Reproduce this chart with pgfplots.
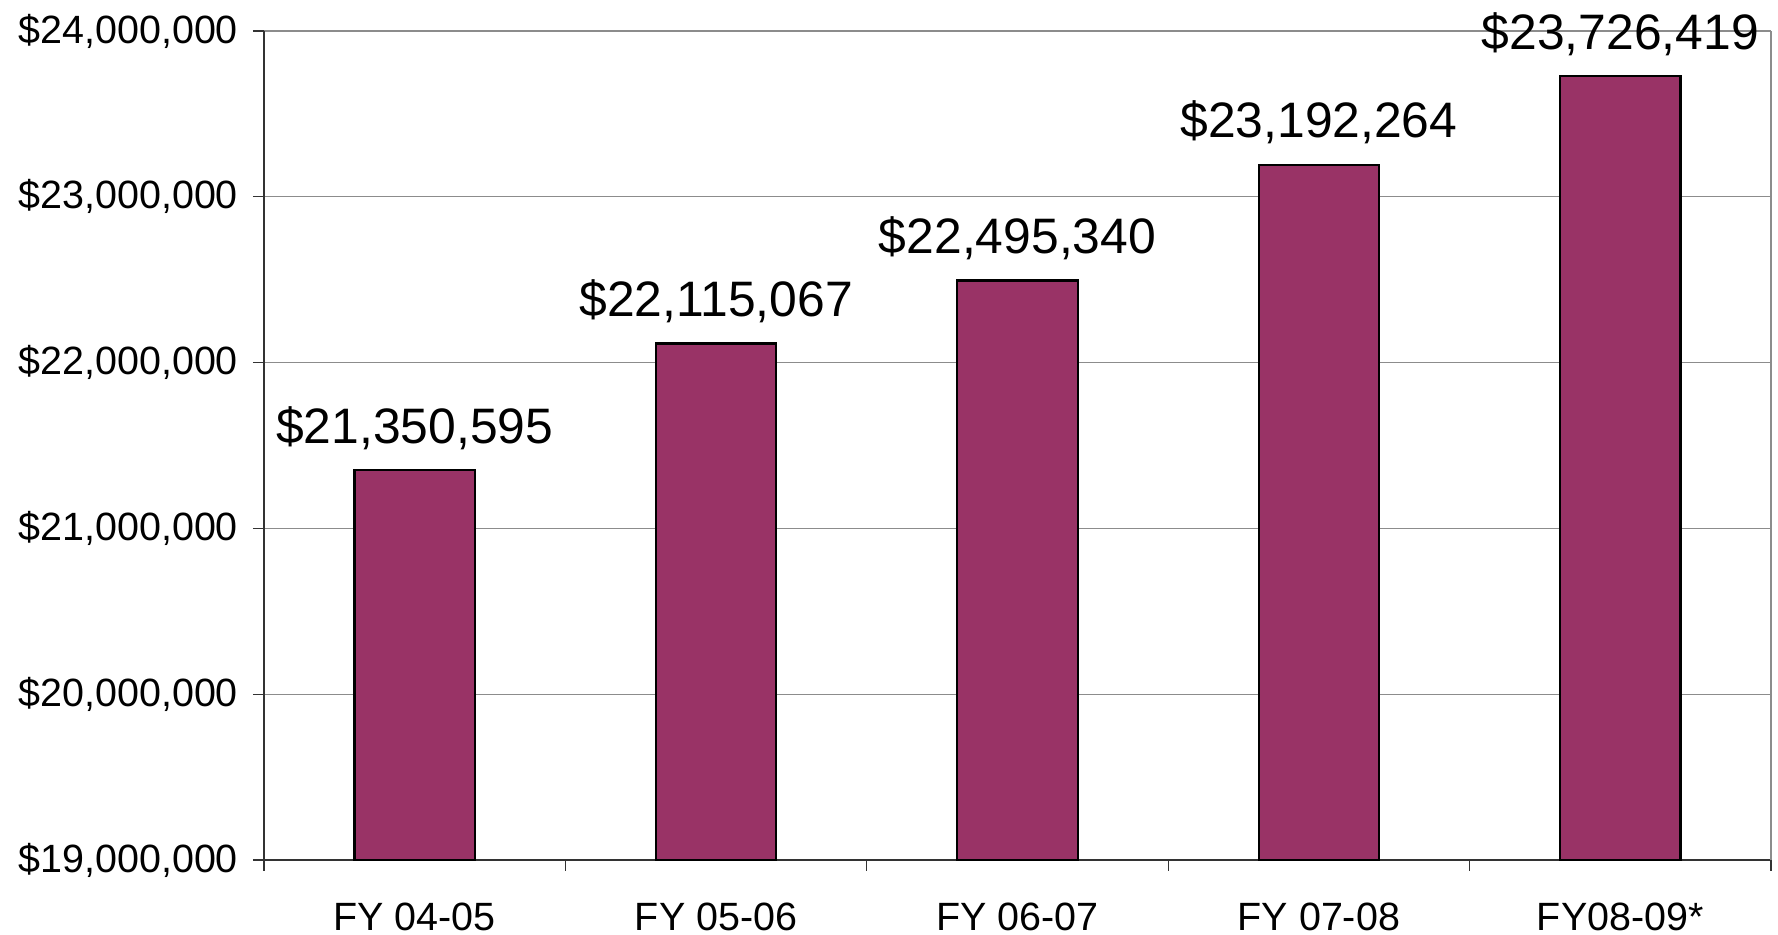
\documentclass[border=0pt]{standalone}
\usepackage{pgfplots}
\pgfplotsset{compat=1.18}
\usepackage{fontspec}
\setmainfont{Liberation Sans}
\definecolor{barplum}{RGB}{153,51,102}
\begin{document}
\begin{tikzpicture}
\begin{axis}[
  scale only axis,
  width=753.5bp, height=414.5bp,
  xmin=-0.5, xmax=4.5,
  ymin=19000000, ymax=24000000,
  scaled y ticks=false,
  axis x line*=bottom, axis y line*=left,
  axis line style={black!80, line width=0.8bp},
  ybar, bar width=0.4,
  xtick={0,1,2,3,4},
  xticklabels={FY 04-05,FY 05-06,FY 06-07,FY 07-08,FY08-09*},
  major x tick style={draw=none},
  minor xtick={-0.5,0.5,1.5,2.5,3.5,4.5},
  minor tick length=5.5bp,
  minor x tick style={black!80, line width=0.6bp},
  xtick align=outside,
  ytick={19000000,20000000,21000000,22000000,23000000,24000000},
  yticklabels={{\$19,000,000},{\$20,000,000},{\$21,000,000},{\$22,000,000},{\$23,000,000},{\$24,000,000}},
  ytick align=outside, major tick length=5.5bp,
  y tick style={black!80, line width=0.6bp},
  ymajorgrids, grid style={gray!90, line width=0.6bp},
  tick label style={font=\fontsize{19.8}{23}\selectfont},
  yticklabel style={anchor=east, xshift=-4bp},
  xticklabel style={anchor=base, inner sep=0pt, yshift=-29.5bp},
  clip=false,
  point meta=explicit symbolic,
  nodes near coords,
  every node near coord/.append style={anchor=base, inner sep=0pt, yshift=13.5bp, font=\fontsize{25}{30}\selectfont, text=black},
]
\addplot[fill=barplum, draw=black, line width=1.1bp] coordinates {
  (0,21350595) [{\$21,350,595}]
  (1,22115067) [{\$22,115,067}]
  (2,22495340) [{\$22,495,340}]
  (3,23192264) [{\$23,192,264}]
  (4,23726419) [{\$23,726,419}]
};
\draw[gray!90, line width=0.6bp] (rel axis cs:1,0) -- (rel axis cs:1,1);
\path (rel axis cs:0,0) ++(-132bp,-37.5bp) (rel axis cs:1,1) ++(3.5bp,15.5bp);
\end{axis}
\end{tikzpicture}
\end{document}
